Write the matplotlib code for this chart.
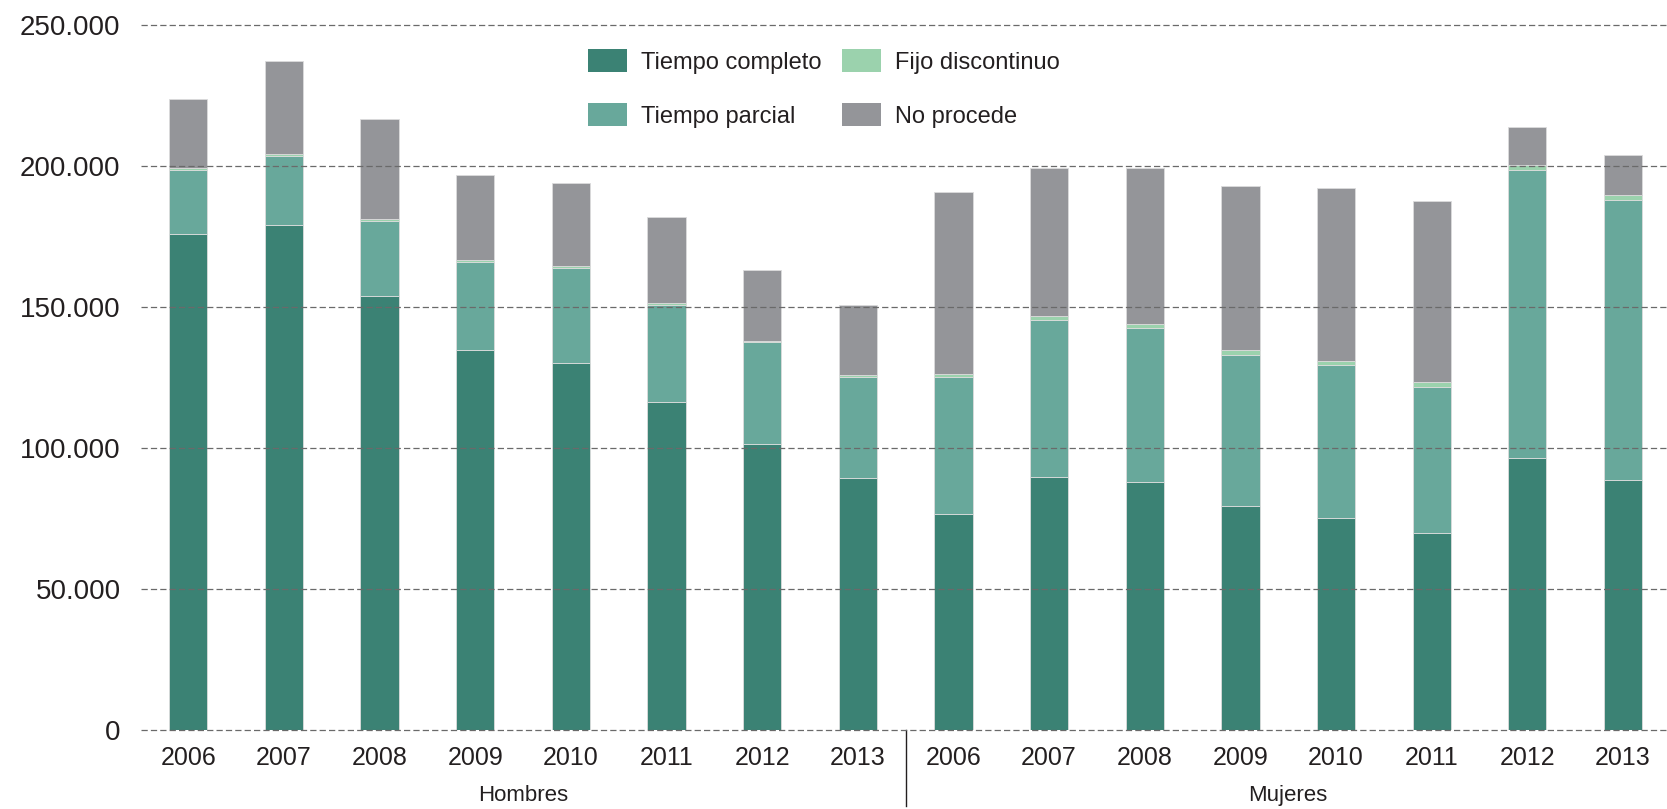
import numpy as np
import matplotlib
matplotlib.use("Agg")
import matplotlib.pyplot as plt
from matplotlib.ticker import FuncFormatter

plt.rcParams['font.family'] = ['Liberation Sans', 'DejaVu Sans']

# Data
years = ["2006", "2007", "2008", "2009", "2010", "2011", "2012", "2013"]
groups = ["Hombres", "Mujeres"]
series_names = ["Tiempo completo", "Tiempo parcial", "Fijo discontinuo", "No procede"]

hombres_completo = [176000, 179100, 153900, 135000, 130200, 116400, 101500, 89500]
hombres_parcial = [22600, 24700, 26700, 31100, 33700, 34400, 36100, 35800]
hombres_fijo = [800, 700, 800, 700, 900, 900, 600, 800]
hombres_noprocede = [24400, 32800, 35300, 30200, 29500, 30300, 25200, 24600]

mujeres_completo = [76700, 90000, 88200, 79400, 75200, 70000, 96700, 88800]
mujeres_parcial = [48800, 55600, 54500, 53900, 54300, 51900, 102100, 99300]
mujeres_fijo = [800, 1300, 1400, 1600, 1600, 1600, 1700, 1700]
mujeres_noprocede = [64500, 52600, 55500, 58300, 61200, 64300, 13500, 14200]

colors = ["#3b8274", "#68a89b", "#9bd2ad", "#949599"]

# Stack the two groups side by side
layers = [
    np.array(hombres_completo + mujeres_completo),
    np.array(hombres_parcial + mujeres_parcial),
    np.array(hombres_fijo + mujeres_fijo),
    np.array(hombres_noprocede + mujeres_noprocede),
]
xlabels = years + years
xlocs = np.arange(len(xlabels))

fig = plt.figure(figsize=(16.67, 8.09), dpi=100)
ax = fig.add_axes([0.0848, 0.0972, 0.9152, 0.8713])

bottom = np.zeros(len(xlocs))
for vals, name, col in zip(layers, series_names, colors):
    ax.bar(xlocs, vals, width=0.4, bottom=bottom, color=col, label=name,
           edgecolor="#dcdcdc", linewidth=0.6, zorder=2)
    bottom = bottom + vals

# Axes styling
ax.set_xlim(-0.49, 15.46)
ax.set_ylim(0, 250000)
ax.set_yticks([0, 50000, 100000, 150000, 200000, 250000])
ax.yaxis.set_major_formatter(FuncFormatter(lambda v, p: f"{int(v):,}".replace(",", ".")))
ax.set_xticks(xlocs)
ax.set_xticklabels(xlabels)
ax.tick_params(axis="y", length=0, pad=15, labelsize=20, labelcolor="#231f20")
ax.tick_params(axis="x", length=0, pad=11, labelsize=18, labelcolor="#231f20")
for s in ax.spines.values():
    s.set_visible(False)

# Dashed gridlines drawn over the bars
for yv in ax.get_yticks():
    ax.axhline(yv, color="#6a6a6a", linewidth=0.9, linestyle=(0, (5, 2.5)), zorder=3,
               clip_on=False)

# Group labels and separator
tr = ax.get_xaxis_transform()
ax.text(3.5, -0.092, groups[0], transform=tr, ha="center", va="center",
        fontsize=16, color="#231f20")
ax.text(11.5, -0.092, groups[1], transform=tr, ha="center", va="center",
        fontsize=16, color="#231f20")
ax.plot([7.5, 7.5], [0, -0.107], transform=tr, color="#231f20", linewidth=1,
        clip_on=False)

# Legend, two columns
handles, labels = ax.get_legend_handles_labels()
leg = ax.legend(handles, labels,
                ncol=2, frameon=False, loc="upper left",
                bbox_to_anchor=(0.3527, 0.9394), bbox_transform=fig.transFigure,
                fontsize=17, handlelength=1.65, handleheight=1.14,
                handletextpad=0.6, columnspacing=0.85, labelspacing=1.25,
                borderpad=0, borderaxespad=0)
for h in leg.legend_handles:
    h.set_edgecolor("none")
for t in leg.get_texts():
    t.set_color("#231f20")

plt.savefig("out.png", dpi=100)
